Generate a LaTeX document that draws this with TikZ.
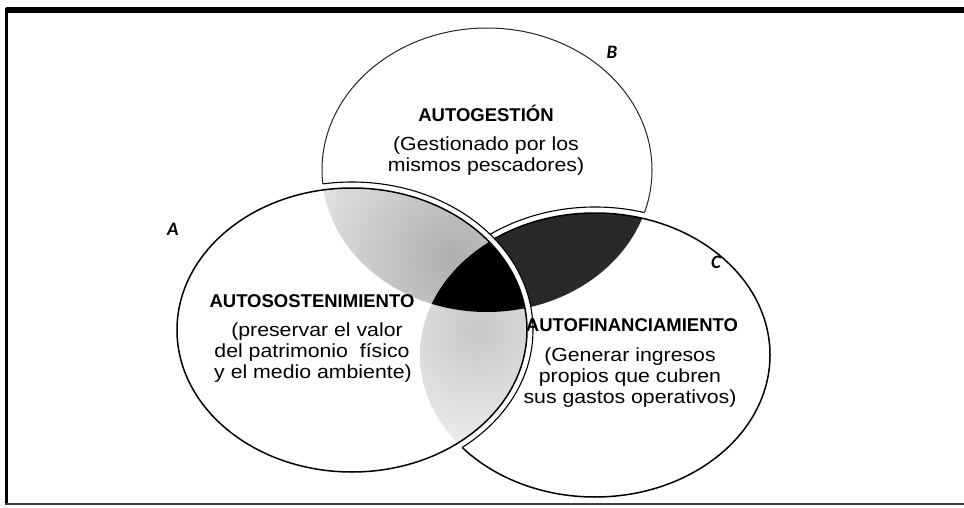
\documentclass[tikz,border=0pt]{standalone}
\usepackage{fontspec}
\setmainfont{Liberation Sans}
\newfontfamily\descfont{Liberation Sans}[FakeStretch=1.12]
\newfontfamily\lblfont{Carlito}
\begin{document}
\begin{tikzpicture}[x=1pt,y=-1pt,
  heading/.style={font=\fontsize{18.5}{21}\selectfont\bfseries, anchor=base, inner sep=0pt},
  desc/.style={font=\descfont\fontsize{19}{21}\selectfont, anchor=base, inner sep=0pt},
  setlabel/.style={font=\lblfont\fontsize{19}{21}\selectfont\bfseries\itshape, anchor=base, inner sep=0pt},
  outline/.style={line width=1.5pt, draw=black},
  ringline/.style={line width=1.1pt, draw=black},
  bline/.style={line width=1pt, draw=black!85}]
\def\pA{(352,330) ellipse [x radius=175pt, y radius=142pt]}
\def\pAo{(352,330) ellipse [x radius=181pt, y radius=148pt]}
\def\pB{(487,170) ellipse [x radius=165pt, y radius=142pt]}
\def\pC{(595,355) ellipse [x radius=175pt, y radius=142pt]}
\def\pCo{(595,355) ellipse [x radius=181pt, y radius=148pt]}
\path[use as bounding box, fill=white] (0,0) rectangle (964,508);
% frame
\draw[line width=6pt] (6,10.5) -- (964,10.5);
\draw[line width=3pt] (6,8) -- (6,505);
\draw[line width=1.8pt, black!75] (5,504) -- (964,504);
% B (bottom layer)
\path[fill=white, bline] \pB;
% C over B
\fill[white] \pCo;
\begin{scope}\clip \pB; \draw[ringline] \pCo; \end{scope}
\fill[white] \pC;
\begin{scope}\clip \pB; \fill[black!84] \pC; \end{scope}
\draw[outline] \pC;
% A over B and C
\fill[white] \pAo;
\begin{scope}\clip \pB \pC; \draw[ringline] \pAo; \end{scope}
\fill[white] \pA;
\begin{scope}\clip \pA; \clip \pB;
  \shade[inner color=black!32, outer color=white] (452,258) circle (230pt);
\end{scope}
\begin{scope}\clip \pA; \clip \pC;
  \shade[inner color=black!22, outer color=white] (478,330) circle (175pt);
\end{scope}
\begin{scope}\clip \pA; \clip \pB; \clip \pC; \fill[black] \pA; \end{scope}
\draw[outline] \pA;
% texts
\node[heading] (bhead) at (486,122) {AUTOGESTIÓN};
\node[desc] (b1) at (486,150.5) {(Gestionado por los};
\node[desc] (b2) at (486,171.5) {mismos pescadores)};
\node[heading] (ahead) at (312,307) {AUTOSOSTENIMIENTO};
\node[desc] (a1) at (317,336) {(preservar el valor};
\node[desc] (a2) at (312,357) {del patrimonio\ \ físico};
\node[desc] (a3) at (313,378) {y el medio ambiente)};
\node[heading] (chead) at (632,331) {AUTOFINANCIAMIENTO};
\node[desc] (c1) at (630,361) {(Generar ingresos};
\node[desc] (c2) at (630,382) {propios que cubren};
\node[desc] (c3) at (630,403) {sus gastos operativos)};
\node[setlabel] (la) at (173,235) {A};
\node[setlabel] (lb) at (612,59) {B};
\node[setlabel] (lc) at (716,268) {C};
\end{tikzpicture}
\end{document}
